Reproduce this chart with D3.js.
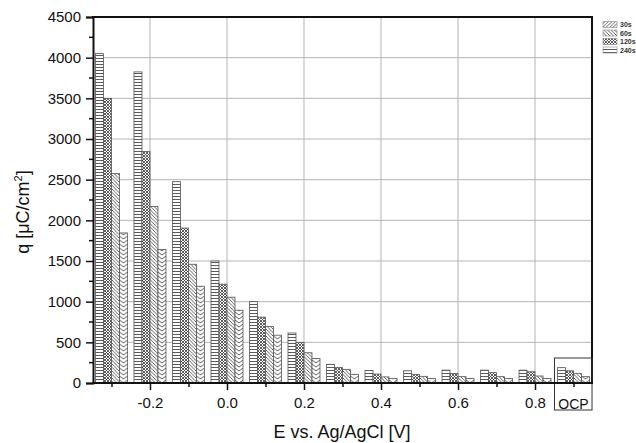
<!DOCTYPE html>
<html><head><meta charset="utf-8">
<script src="https://cdn.jsdelivr.net/npm/d3@7"></script>
<style>body{margin:0;background:#fff}svg{display:block;font-family:"Liberation Sans",Arial,sans-serif}</style>
</head><body><svg id="c" width="636" height="443"></svg>
<script>
const categories = ["-0.3","-0.2","-0.1","0.0","0.1","0.2","0.3","0.4","0.5","0.6","0.7","0.8","OCP"];
const positions  = [-0.3,-0.2,-0.1,0.0,0.1,0.2,0.3,0.4,0.5,0.6,0.7,0.8,0.9];
const seriesNames = ["240s","120s","60s","30s"];
const q240 = [4050,3825,2475,1500,1000,615,230,155,150,158,158,158,188];
const q120 = [3500,2845,1905,1215,810,500,190,110,107,118,127,138,150];
const q60  = [2575,2170,1460,1055,695,372,168,75,82,78,78,86,119];
const q30  = [1845,1643,1190,895,588,302,107,55,57,57,57,57,78];
const seriesValues = [q240,q120,q60,q30];
const xTickLabels = ["-0.2","0.0","0.2","0.4","0.6","0.8"];
const yTicks = [0,500,1000,1500,2000,2500,3000,3500,4000,4500];
const legendOrder = ["30s","60s","120s","240s"];

const svg = d3.select("#c");
const x = d3.scaleLinear().domain([-0.348,0.948]).range([93,592]);
const y = d3.scaleLinear().domain([0,4500]).range([383,17]);
const sub = d3.scaleBand().domain(seriesNames).range([-16,16]);
const bw = sub.bandwidth();

const defs = svg.append("defs");
function pat(id, w, h, draw, attrs={}) {
  const p = defs.append("pattern").attr("id",id).attr("patternUnits","userSpaceOnUse")
    .attr("width",w).attr("height",h);
  Object.entries(attrs).forEach(([k,v])=>p.attr(k,v));
  p.append("rect").attr("width",w).attr("height",h).attr("fill","#fff");
  draw(p); return p;
}
pat("p240",4,3,p=>p.append("line").attr("x1",0).attr("x2",4).attr("y1",1.5).attr("y2",1.5).attr("stroke","#5a5a5a").attr("stroke-width",1));
pat("p120",3,3,p=>{
  p.append("path").attr("d","M-1,1 L1,-1 M0,3 L3,0 M2,4 L4,2").attr("stroke","#333").attr("stroke-width",0.8);
  p.append("path").attr("d","M-1,2 L1,4 M0,0 L3,3 M2,-1 L4,1").attr("stroke","#333").attr("stroke-width",0.8);
});
pat("p60",3.5,3.5,p=>p.append("path").attr("d","M-1,-1 L4.5,4.5 M-1,2.5 L1,4.5 M2.5,-1 L4.5,1").attr("stroke","#333").attr("stroke-width",0.8));
pat("p30leg",3.5,3.5,p=>p.append("path").attr("d","M-1,4.5 L4.5,-1 M-1,1 L1,-1 M2.5,4.5 L4.5,2.5").attr("stroke","#333").attr("stroke-width",0.8));

// gridlines
const g = svg.append("g");
g.selectAll(".hg").data(yTicks.filter(v=>v>0&&v<4500)).join("line")
  .attr("x1",93).attr("x2",592).attr("y1",d=>y(d)).attr("y2",d=>y(d))
  .attr("stroke","#b5b5b5").attr("stroke-width",1);
const gridX = positions.filter((p,i)=>xTickLabels.includes(categories[i]));
g.selectAll(".vg").data(gridX).join("line")
  .attr("x1",d=>x(d)).attr("x2",d=>x(d)).attr("y1",17).attr("y2",383)
  .attr("stroke","#b5b5b5").attr("stroke-width",1);

// bars
const bars = svg.append("g");
seriesNames.forEach((s,si)=>{
  positions.forEach((p,i)=>{
    const bx = x(p)+sub(s);
    let fill = "url(#p"+s.replace("s","")+")";
    if (s==="30s") {
      const id = "chev"+i;
      pat(id,bw,4,pp=>pp.append("path").attr("d",`M0,0 L${bw/2},3 L${bw},0 M0,4 L${bw/2},7 L${bw},4 M0,-4 L${bw/2},-1 L${bw},-4`)
        .attr("fill","none").attr("stroke","#333").attr("stroke-width",0.8),{x:bx});
      fill = "url(#"+id+")";
    }
    const v = seriesValues[si][i];
    bars.append("rect").attr("x",bx).attr("width",bw)
      .attr("y",y(v)).attr("height",y(0)-y(v))
      .attr("fill",fill).attr("stroke","#555").attr("stroke-width",0.8);
  });
});

// frame
svg.append("line").attr("x1",92).attr("x2",593).attr("y1",17).attr("y2",17).attr("stroke","#111").attr("stroke-width",2);
svg.append("line").attr("x1",592).attr("x2",592).attr("y1",17).attr("y2",383).attr("stroke","#111").attr("stroke-width",2);

// OCP box
svg.append("rect").attr("x",x(0.9)-19).attr("y",358).attr("width",37.5).attr("height",52)
  .attr("fill","none").attr("stroke","#333").attr("stroke-width",1);

// y axis
const yMinor = d3.range(250,4500,500);
const yAx = svg.append("g").attr("transform","translate(93,0)")
  .call(d3.axisLeft(y).tickValues(yTicks).tickSize(7).tickPadding(5).tickFormat(d3.format("d")));
yAx.select(".domain").attr("stroke","#111").attr("stroke-width",2);
yAx.selectAll(".tick line").attr("stroke","#111").attr("stroke-width",1.5);
yAx.selectAll("text").attr("font-size",15).attr("fill","#111").attr("font-family","Liberation Sans, Arial, sans-serif");
svg.append("g").selectAll("line").data(yMinor).join("line")
  .attr("x1",89).attr("x2",93).attr("y1",d=>y(d)).attr("y2",d=>y(d)).attr("stroke","#111").attr("stroke-width",1.5);

// x axis
const xAx = svg.append("g").attr("transform","translate(0,383)")
  .call(d3.axisBottom(x).tickValues(positions).tickSize(4).tickPadding(10)
    .tickFormat((d,i)=> xTickLabels.includes(categories[i]) ? categories[i] : ""));
xAx.select(".domain").attr("stroke","#111").attr("stroke-width",2).attr("d","M92,0H593");
xAx.selectAll(".tick line").attr("stroke","#111").attr("stroke-width",1.5)
  .attr("y2",(d,i)=> xTickLabels.includes(categories[i]) ? 7 : 4);
xAx.selectAll("text").attr("font-size",15).attr("fill","#111").attr("font-family","Liberation Sans, Arial, sans-serif");
svg.append("text").attr("x",x(0.9)).attr("y",409).attr("text-anchor","middle")
  .attr("font-size",14).attr("fill","#111").text(categories[12]);

// axis titles
svg.append("text").attr("x",342).attr("y",438).attr("text-anchor","middle")
  .attr("font-size",18).attr("fill","#111").text("E vs. Ag/AgCl [V]");
const yt = svg.append("text").attr("transform","translate(29,212) rotate(-90)").attr("text-anchor","middle")
  .attr("font-size",18).attr("fill","#111");
yt.append("tspan").text("q [μC/cm");
yt.append("tspan").attr("font-size",11).attr("dy",-7).text("2");
yt.append("tspan").attr("dy",7).text("]");

// legend
const legFill = {"30s":"url(#p30leg)","60s":"url(#p60)","120s":"url(#p120)","240s":"url(#p240)"};
const leg = svg.append("g");
legendOrder.forEach((s,i)=>{
  const ly = 24.5 + i*8.5;
  leg.append("rect").attr("x",603).attr("y",ly-3).attr("width",14).attr("height",6)
    .attr("fill",legFill[s]).attr("stroke","#888").attr("stroke-width",0.6);
  leg.append("text").attr("x",620).attr("y",ly+2.5).attr("font-size",7).attr("font-weight","bold")
    .attr("fill","#333").text(s);
});
</script></body></html>
